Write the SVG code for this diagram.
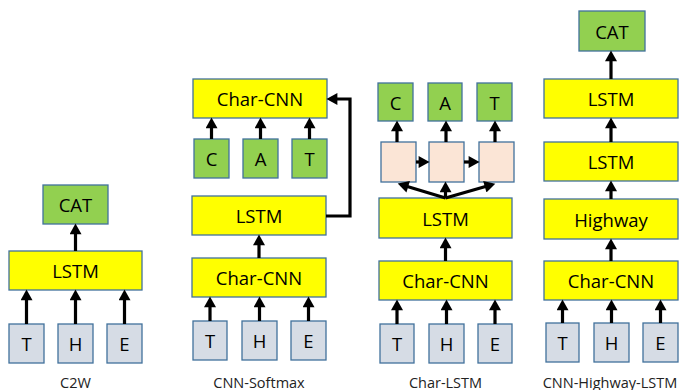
<svg xmlns="http://www.w3.org/2000/svg" width="680" height="390" viewBox="0 0 680 390">
<style>
  .box rect { stroke: #41719C; stroke-width: 1.3; }
  .y rect { fill: #FFFF00; }
  .g rect { fill: #92D050; }
  .c rect { fill: #D6DCE5; }
  .p rect { fill: #FBE5D6; }
  text { font-family: "Open Sans", "Liberation Sans", sans-serif; fill: #000; text-anchor: middle; dominant-baseline: central; }
  .box text { font-size: 18.5px; }
  .lbl { font-size: 14.5px; fill: #222; }
  .conn line, .conn path { stroke: #000; stroke-width: 3.2; fill: none; marker-end: url(#ah); }
</style>
<defs>
  <marker id="ah" markerUnits="userSpaceOnUse" markerWidth="12" markerHeight="12" viewBox="0 0 10 11" refX="4" refY="5.5" orient="auto">
    <path d="M0,0 L10,5.5 L0,11 z" fill="#000"/>
  </marker>
</defs>
<rect width="680" height="390" fill="#fff"/>

<!-- C2W -->
<g id="c2w-cat" class="box g"><rect x="43" y="185" width="65" height="39"/><text x="75.5" y="204.5">CAT</text></g>
<g id="c2w-lstm" class="box y"><rect x="9" y="251" width="133" height="39"/><text x="75.5" y="270.5">LSTM</text></g>
<g id="c2w-t" class="box c"><rect x="9" y="324" width="35" height="39"/><text x="26.5" y="343.5">T</text></g>
<g id="c2w-h" class="box c"><rect x="58" y="324" width="35" height="39"/><text x="75.5" y="343.5">H</text></g>
<g id="c2w-e" class="box c"><rect x="107" y="324" width="35" height="39"/><text x="124.5" y="343.5">E</text></g>
<text class="lbl" x="75.5" y="382">C2W</text>

<!-- CNN-Softmax -->
<g id="cs-charcnn-top" class="box y"><rect x="193" y="79" width="134" height="39"/><text x="260" y="98.5">Char-CNN</text></g>
<g id="cs-c" class="box g"><rect x="194" y="139" width="35" height="39"/><text x="211.5" y="158.5">C</text></g>
<g id="cs-a" class="box g"><rect x="243" y="139" width="35" height="39"/><text x="260.5" y="158.5">A</text></g>
<g id="cs-t2" class="box g"><rect x="292" y="139" width="35" height="39"/><text x="309.5" y="158.5">T</text></g>
<g id="cs-lstm" class="box y"><rect x="192" y="196" width="134" height="39"/><text x="259" y="215.5">LSTM</text></g>
<g id="cs-charcnn" class="box y"><rect x="192" y="258" width="134" height="39"/><text x="259" y="277.5">Char-CNN</text></g>
<g id="cs-t" class="box c"><rect x="193" y="321" width="34" height="39"/><text x="210" y="340.5">T</text></g>
<g id="cs-h" class="box c"><rect x="242" y="321" width="35" height="39"/><text x="259.5" y="340.5">H</text></g>
<g id="cs-e" class="box c"><rect x="291" y="321" width="35" height="39"/><text x="308.5" y="340.5">E</text></g>
<text class="lbl" x="259" y="382">CNN-Softmax</text>

<!-- Char-LSTM -->
<g id="cl-c" class="box g"><rect x="378" y="83" width="35" height="38"/><text x="395.5" y="102">C</text></g>
<g id="cl-a" class="box g"><rect x="428" y="83" width="34" height="38"/><text x="445" y="102">A</text></g>
<g id="cl-t2" class="box g"><rect x="477" y="83" width="35" height="38"/><text x="494.5" y="102">T</text></g>
<g id="cl-p1" class="box p"><rect x="381" y="142" width="35" height="40"/></g>
<g id="cl-p2" class="box p"><rect x="429" y="142" width="35" height="40"/></g>
<g id="cl-p3" class="box p"><rect x="479" y="142" width="35" height="40"/></g>
<g id="cl-lstm" class="box y"><rect x="379" y="198" width="133" height="40"/><text x="445.5" y="218">LSTM</text></g>
<g id="cl-charcnn" class="box y"><rect x="379" y="261" width="133" height="39"/><text x="445.5" y="280.5">Char-CNN</text></g>
<g id="cl-t" class="box c"><rect x="380" y="324" width="34" height="39"/><text x="397" y="343.5">T</text></g>
<g id="cl-h" class="box c"><rect x="429" y="324" width="35" height="39"/><text x="446.5" y="343.5">H</text></g>
<g id="cl-e" class="box c"><rect x="478" y="324" width="34" height="39"/><text x="495" y="343.5">E</text></g>
<text class="lbl" x="445.5" y="382">Char-LSTM</text>

<!-- CNN-Highway-LSTM -->
<g id="ch-cat" class="box g"><rect x="579" y="11" width="66" height="40"/><text x="612" y="31">CAT</text></g>
<g id="ch-lstm2" class="box y"><rect x="544" y="79" width="134" height="39"/><text x="611" y="98.5">LSTM</text></g>
<g id="ch-lstm1" class="box y"><rect x="544" y="142" width="134" height="39"/><text x="611" y="161.5">LSTM</text></g>
<g id="ch-highway" class="box y"><rect x="544" y="199" width="134" height="40"/><text x="611" y="219">Highway</text></g>
<g id="ch-charcnn" class="box y"><rect x="544" y="261" width="134" height="39"/><text x="611" y="280.5">Char-CNN</text></g>
<g id="ch-t" class="box c"><rect x="546" y="323" width="33" height="39"/><text x="562.5" y="342.5">T</text></g>
<g id="ch-h" class="box c"><rect x="594" y="323" width="35" height="39"/><text x="611.5" y="342.5">H</text></g>
<g id="ch-e" class="box c"><rect x="643" y="323" width="35" height="39"/><text x="660.5" y="342.5">E</text></g>
<text class="lbl" x="610" y="382">CNN-Highway-LSTM</text>

<!-- connectors -->
<g id="connectors" class="conn">
  <line x1="26.5" y1="324" x2="26.5" y2="296"/>
  <line x1="75.5" y1="324" x2="75.5" y2="296"/>
  <line x1="124.5" y1="324" x2="124.5" y2="296"/>
  <line x1="75.5" y1="251" x2="75.5" y2="230"/>

  <line x1="210" y1="321" x2="210" y2="303"/>
  <line x1="259.5" y1="321" x2="259.5" y2="303"/>
  <line x1="308.5" y1="321" x2="308.5" y2="303"/>
  <line x1="259" y1="258" x2="259" y2="241"/>
  <line x1="211.5" y1="139" x2="211.5" y2="124"/>
  <line x1="260.5" y1="139" x2="260.5" y2="124"/>
  <line x1="309.5" y1="139" x2="309.5" y2="124"/>
  <path d="M326,216 H350 V99 H333"/>

  <line x1="397" y1="324" x2="397" y2="306"/>
  <line x1="446.5" y1="324" x2="446.5" y2="306"/>
  <line x1="495" y1="324" x2="495" y2="306"/>
  <line x1="445.5" y1="261" x2="445.5" y2="244"/>
  <line x1="445.5" y1="198" x2="404" y2="185.5"/>
  <line x1="445.5" y1="198" x2="445.5" y2="188"/>
  <line x1="445.5" y1="198" x2="489" y2="185.5"/>
  <line x1="416" y1="162" x2="423" y2="162"/>
  <line x1="464" y1="162" x2="473" y2="162"/>
  <line x1="397" y1="142" x2="397" y2="127"/>
  <line x1="446" y1="142" x2="446" y2="127"/>
  <line x1="495" y1="142" x2="495" y2="127"/>

  <line x1="562.5" y1="323" x2="562.5" y2="306"/>
  <line x1="611.5" y1="323" x2="611.5" y2="306"/>
  <line x1="660.5" y1="323" x2="660.5" y2="306"/>
  <line x1="611" y1="261" x2="611" y2="245"/>
  <line x1="611" y1="199" x2="611" y2="187"/>
  <line x1="611" y1="142" x2="611" y2="124"/>
  <line x1="611" y1="79" x2="611" y2="57"/>
</g>
</svg>
